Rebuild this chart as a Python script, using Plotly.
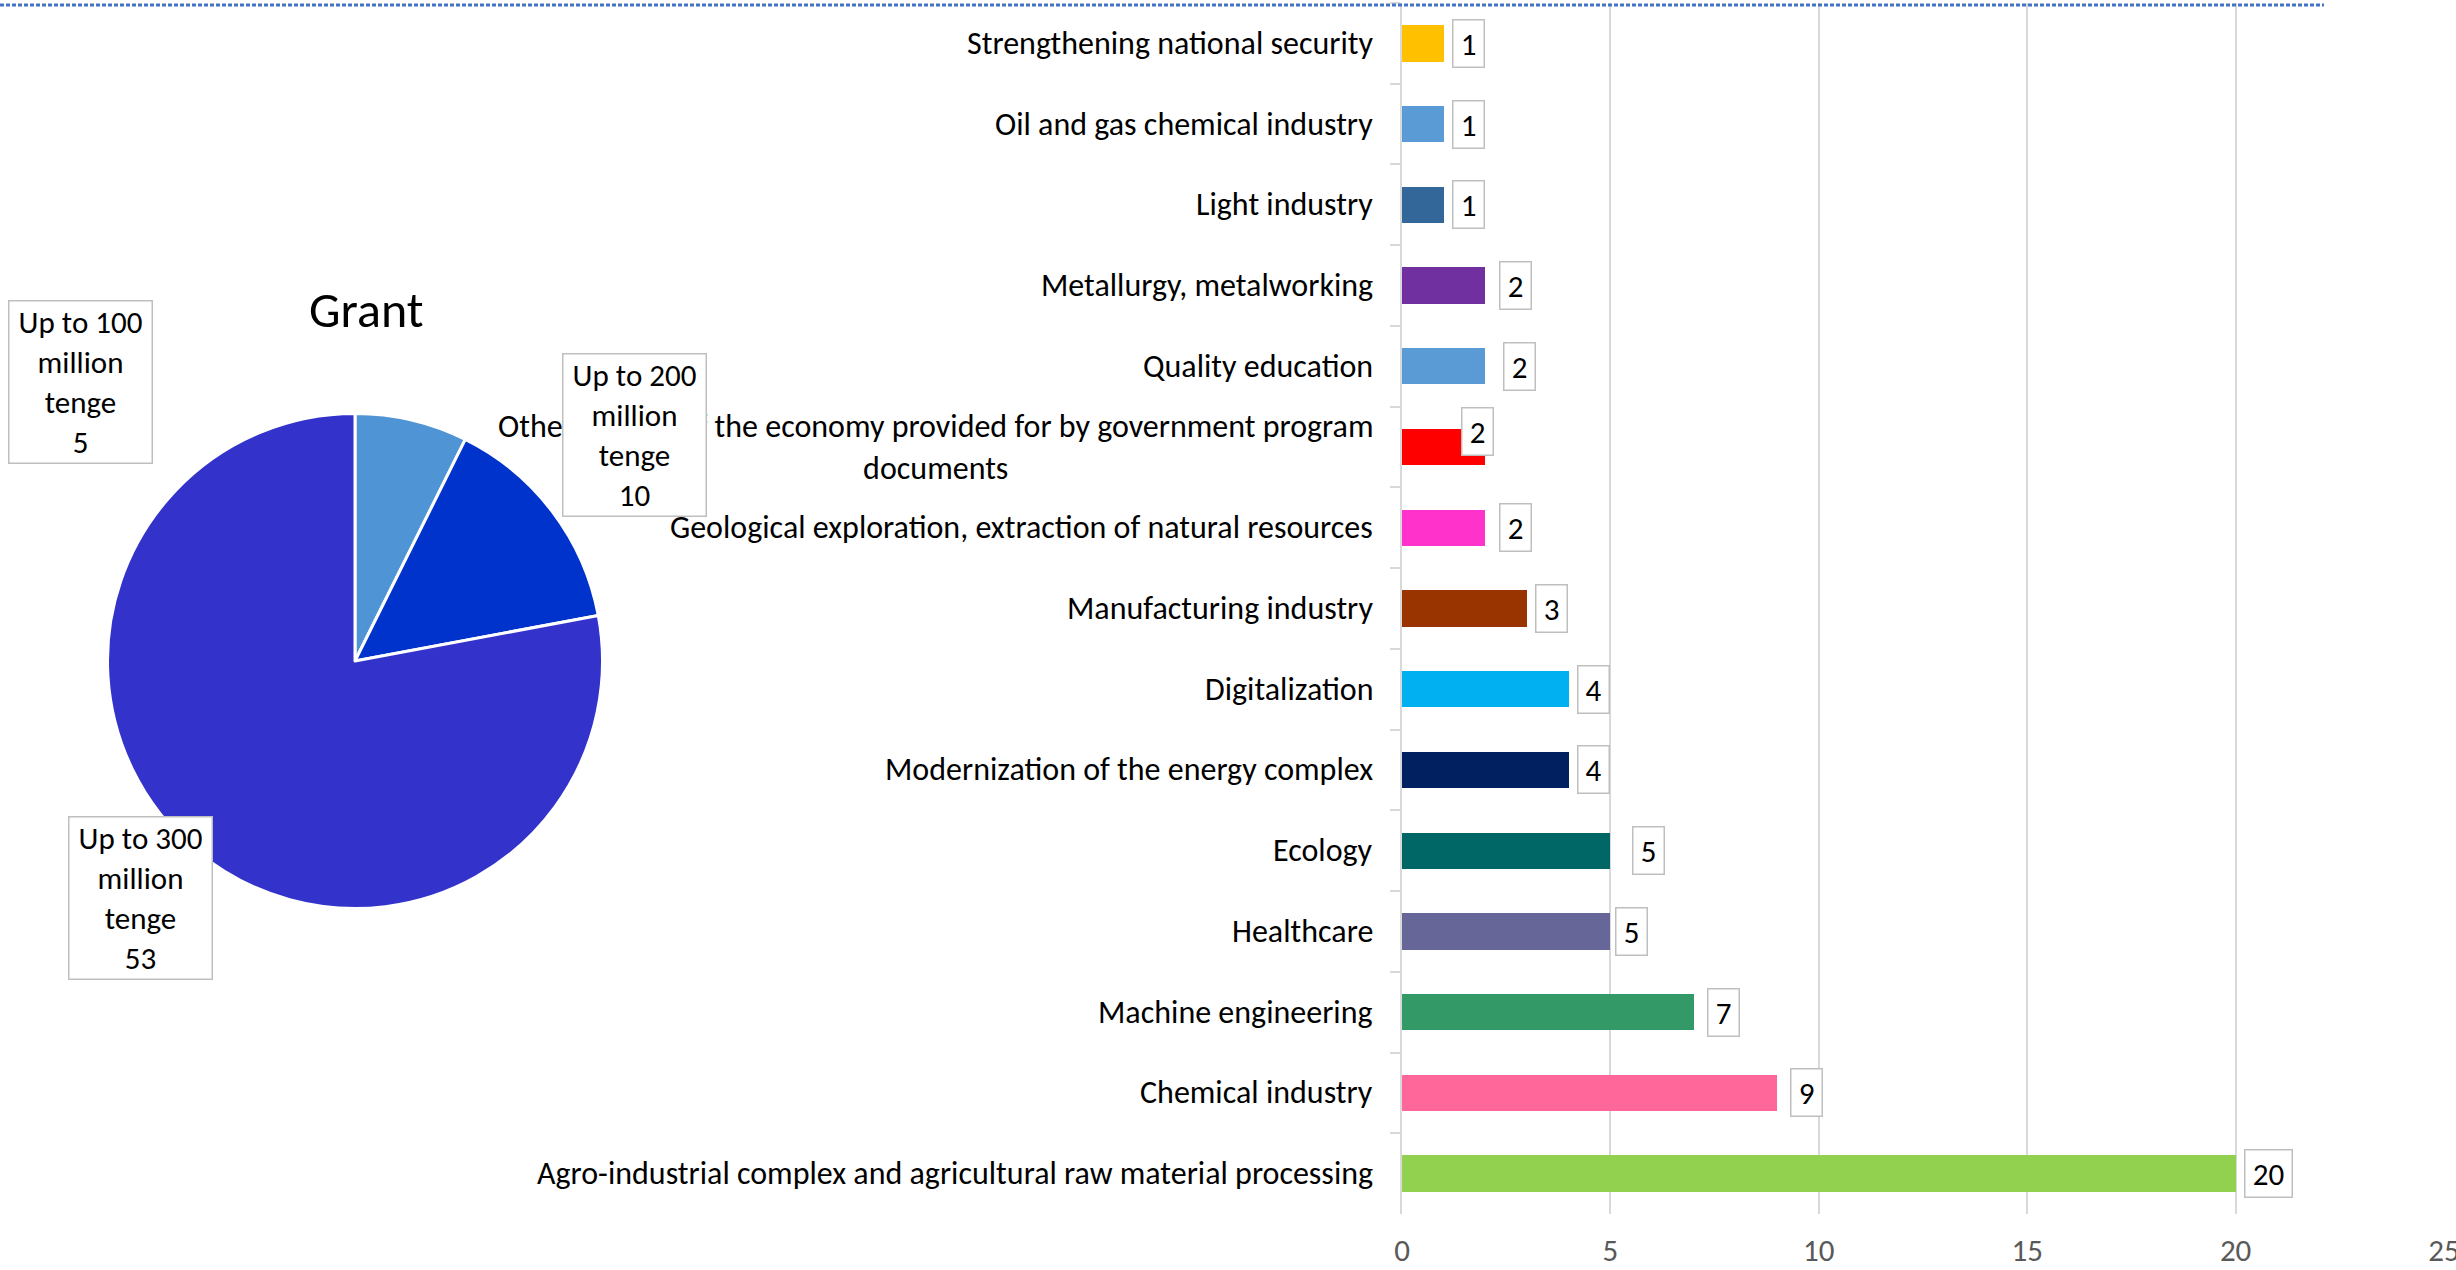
import textwrap
import plotly.graph_objects as go

# ---------------- data ----------------
pie_labels = ["Up to 100 million tenge", "Up to 200 million tenge", "Up to 300 million tenge"]
pie_values = [5, 10, 53]

categories = [
    "Strengthening national security",
    "Oil and gas chemical industry",
    "Light industry",
    "Metallurgy, metalworking",
    "Quality education",
    "Other sectors of the economy provided for by government program documents",
    "Geological exploration, extraction of natural resources",
    "Manufacturing industry",
    "Digitalization",
    "Modernization of the energy complex",
    "Ecology",
    "Healthcare",
    "Machine engineering",
    "Chemical industry",
    "Agro-industrial complex and agricultural raw material processing",
]
values = [1, 1, 1, 2, 2, 2, 2, 3, 4, 4, 5, 5, 7, 9, 20]
x_ticks = [0, 5, 10, 15, 20, 25]

# ---------------- styles ----------------
bar_colors = ["#FFC000", "#5B9BD5", "#336699", "#7030A0", "#5B9BD5", "#FF0000",
              "#FF33CC", "#993300", "#00B0F0", "#002060", "#006666", "#666699",
              "#339966", "#FF6699", "#92D050"]
pie_colors = ["#4F94D4", "#0033CC", "#3333CC"]
FONT = "Carlito, Lato, 'Open Sans', sans-serif"

W, H = 2456, 1270
ML, MR, MT, MB = 0, 12, 3, 56
PW, PH = W - ML - MR, H - MT - MB


def px_x(px):
    return (px - ML) / PW


def px_y(py):
    return (H - MB - py) / PH


# label nudges (pixels) for bar data labels: (dx, dy)
nudges = {
    "Metallurgy, metalworking": (6, 0),
    "Quality education": (10, 0),
    "Other sectors of the economy provided for by government program documents": (-32, 16),
    "Geological exploration, extraction of natural resources": (6, 0),
    "Ecology": (14, 0),
    "Healthcare": (-3, 0),
    "Machine engineering": (5, 0),
    "Chemical industry": (5, 0),
}

fig = go.Figure()

fig.add_trace(go.Bar(
    x=values, y=categories, orientation="h",
    marker=dict(color=bar_colors, line=dict(width=0)),
    width=0.45, xaxis="x", yaxis="y", showlegend=False,
))

pie_cx, pie_cy, pie_r = 355, 661, 247.5
fig.add_trace(go.Pie(
    labels=pie_labels, values=pie_values, sort=False, direction="clockwise",
    rotation=0, textinfo="none", showlegend=False,
    marker=dict(colors=pie_colors, line=dict(color="white", width=3)),
    domain=dict(x=[px_x(pie_cx - pie_r), px_x(pie_cx + pie_r)],
                y=[px_y(pie_cy + pie_r), px_y(pie_cy - pie_r)]),
))

annotations = []

# category labels (centered multi-line, right anchored at axis)
for c in categories:
    txt = "<br>".join(textwrap.wrap(c, 64))
    annotations.append(dict(
        x=0, y=c, xref="x", yref="y", xanchor="right", yanchor="middle",
        xshift=-27, text=txt, showarrow=False, align="center",
        font=dict(family=FONT, size=32, color="#000000"),
    ))

# pie data label boxes
pie_box_centers = [(80.5, 382), (635, 434.5), (140, 897.5)]
for lab, v, (cx, cy) in zip(pie_labels, pie_values, pie_box_centers):
    txt = lab.replace(" million tenge", "<br>million<br>tenge") + "<br>" + str(v)
    annotations.append(dict(
        x=px_x(cx), y=px_y(cy), xref="paper", yref="paper",
        xanchor="center", yanchor="middle", text=txt, showarrow=False,
        align="center", width=140, height=159, borderpad=1,
        bgcolor="white", bordercolor="#BFBFBF", borderwidth=1.5,
        font=dict(family=FONT, size=31, color="#000000"),
    ))

# bar data labels
for c, v in zip(categories, values):
    dx, dy = nudges.get(c, (0, 0))
    annotations.append(dict(
        x=v, y=c, xref="x", yref="y", xanchor="left", yanchor="middle",
        xshift=8 + dx, yshift=dy, text=str(v), showarrow=False,
        width=12 + 16 * len(str(v)), height=44, borderpad=1,
        bgcolor="white", bordercolor="#BFBFBF", borderwidth=1.5,
        font=dict(family=FONT, size=31, color="#000000"),
    ))

# pie title
annotations.append(dict(
    x=px_x(366), y=px_y(310), xref="paper", yref="paper",
    xanchor="center", yanchor="middle", text="Grant", showarrow=False,
    font=dict(family=FONT, size=50, color="#000000"),
))

fig.update_layout(
    width=W, height=H,
    margin=dict(l=ML, r=MR, t=MT, b=MB, pad=0, autoexpand=False),
    paper_bgcolor="white", plot_bgcolor="white",
    font=dict(family=FONT),
    bargap=0,
    xaxis=dict(
        domain=[px_x(1402), 1], range=[0, 25], tickvals=x_ticks,
        automargin=False, ticklabeloverflow="allow",
        showgrid=True, gridcolor="#D9D9D9", gridwidth=2, zeroline=False,
        showline=False, ticks="outside", ticklen=9, tickcolor="rgba(0,0,0,0)",
        tickfont=dict(family=FONT, size=31, color="#595959"),
    ),
    yaxis=dict(
        automargin=False,
        categoryorder="array", categoryarray=categories, autorange="reversed",
        showticklabels=False, showgrid=False, zeroline=False,
        showline=True, linecolor="#D9D9D9", linewidth=2,
        ticks="outside", tickson="boundaries", ticklen=10, tickwidth=2,
        tickcolor="#D9D9D9",
    ),
    annotations=annotations,
    shapes=[dict(type="line", xref="paper", yref="paper",
                 x0=0, x1=px_x(2324), y0=px_y(5), y1=px_y(5),
                 line=dict(color="#4472C4", width=3, dash="4px,2px"))],
)

fig.write_html("out.html")
